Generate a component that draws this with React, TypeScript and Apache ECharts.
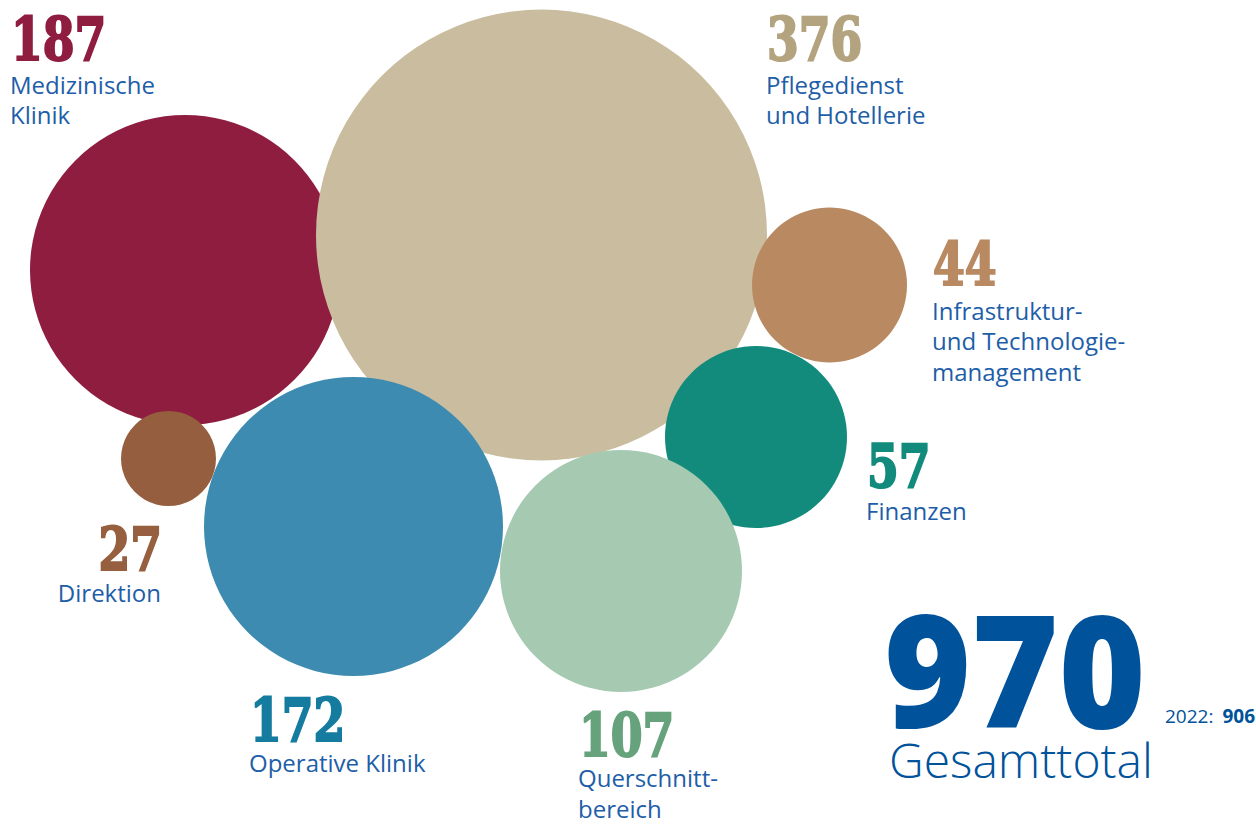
import React, { useEffect, useRef } from "react";
import * as echarts from "echarts";

// ---------- data ----------
const categories = [
  "Medizinische\nKlinik",
  "Pflegedienst\nund Hotellerie",
  "Infrastruktur-\nund Technologie-\nmanagement",
  "Finanzen",
  "Direktion",
  "Operative Klinik",
  "Querschnitt-\nbereich",
];
const values = [187, 376, 44, 57, 27, 172, 107];
const totalValue = 970;
const totalLabel = "Gesamttotal";
const previousYear = "2022";
const previousTotal = 906;

// ---------- layout & style ----------
const bubbleCenters = [
  [185, 270],
  [541.5, 235],
  [829.5, 285],
  [756, 437],
  [168.5, 458.5],
  [353.5, 526.5],
  [621, 571],
];
const bubbleDiameters = [310, 451, 155, 182, 95, 299, 242];
const bubbleColors = ["#8f1d40", "#cabd9f", "#b98a62", "#128b7d", "#955f3f", "#3d8bb0", "#a5c9b1"];
const numberColors = ["#8f1d40", "#b3a47f", "#b98a62", "#128b7c", "#965f3f", "#157ca0", "#66a37c"];
// [x, numberBaseline, firstLabelBaseline, align]
const labelAnchors: [number, number, number, string][] = [
  [11, 60, 93, "left"],
  [767, 60, 93, "left"],
  [933, 285, 319, "left"],
  [867, 487, 519, "left"],
  [162, 570, 601, "right"],
  [250, 741, 771, "left"],
  [579, 756, 786.5, "left"],
];
const BLUE = "#1e5ea8";
const TOTAL_BLUE = "#00529b";

export default function App() {
  const ref = useRef<HTMLDivElement>(null);
  useEffect(() => {
    document.body.style.margin = "0";
    const chart = echarts.init(ref.current!, null, { renderer: "svg" });
    const numFont = 59;
    const lblFont = 24;
    const lh = 30.5;
    const graphics: any[] = [];
    labelAnchors.forEach(([x, nb, lb, align], i) => {
      graphics.push({
        type: "text",
        x,
        y: nb - 0.36 * numFont,
        scaleX: 0.86,
        style: {
          text: String(values[i]),
          fontFamily: "DejaVu Serif Condensed, DejaVu Serif",
          fontWeight: "bold",
          fontSize: numFont,
          lineHeight: 46,
          fill: numberColors[i],
          stroke: numberColors[i],
          lineWidth: 2,
          align,
          verticalAlign: "middle",
        },
      });
      categories[i].split("\n").forEach((line, j) => {
        graphics.push({
          type: "text",
          x: align === "right" ? x - 1 : x - 1,
          y: lb + j * lh - 0.36 * lblFont,
          style: {
            text: line,
            fontFamily: "Open Sans",
            fontSize: lblFont,
            lineHeight: 22,
            fill: BLUE,
            align,
            verticalAlign: "middle",
          },
        });
      });
    });
    graphics.push({
      type: "text",
      x: 884,
      y: 725 - 0.37 * 156,
      scaleX: 0.955,
      style: {
        text: String(totalValue),
        fontFamily: "Open Sans",
        fontWeight: 800,
        fontSize: 156,
        lineHeight: 116,
        fill: TOTAL_BLUE,
        align: "left",
        verticalAlign: "middle",
      },
    });
    graphics.push({
      type: "text",
      x: 889,
      y: 777 - 0.37 * 48,
      style: {
        text: totalLabel,
        fontFamily: "Open Sans",
        fontWeight: 300,
        fontSize: 48,
        lineHeight: 40,
        fill: TOTAL_BLUE,
        align: "left",
        verticalAlign: "middle",
      },
    });
    graphics.push({
      type: "text",
      x: 1255,
      y: 723 - 0.37 * 19,
      style: {
        text: `{a|${previousYear}:}{b|${previousTotal}}`,
        align: "right",
        verticalAlign: "middle",
        rich: {
          a: { fontFamily: "Open Sans", fontSize: 19, lineHeight: 18, fill: TOTAL_BLUE, color: TOTAL_BLUE },
          b: {
            fontFamily: "Open Sans",
            fontSize: 19,
            lineHeight: 18,
            fontWeight: "bold",
            fill: TOTAL_BLUE,
            color: TOTAL_BLUE,
            padding: [0, 0, 0, 9],
          },
        },
      },
    });

    chart.setOption({
      animation: false,
      grid: { left: 0, right: 0, top: 0, bottom: 0 },
      xAxis: { type: "value", min: 0, max: 1256, show: false },
      yAxis: { type: "value", min: 0, max: 825, inverse: true, show: false },
      series: [
        {
          type: "scatter",
          data: values.map((v, i) => ({
            value: [bubbleCenters[i][0], bubbleCenters[i][1], v],
            symbolSize: bubbleDiameters[i],
            itemStyle: { color: bubbleColors[i], opacity: 1 },
          })),
          symbol: "circle",
          emphasis: { disabled: true },
        },
      ],
      graphic: graphics,
    });
    return () => chart.dispose();
  }, []);
  return <div ref={ref} style={{ width: 1256, height: 825 }} />;
}
